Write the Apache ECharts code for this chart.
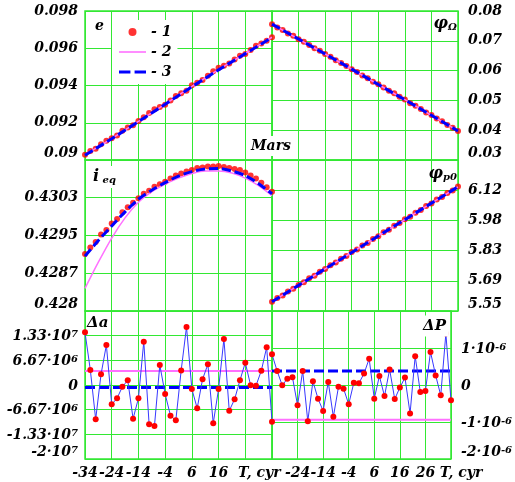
<!DOCTYPE html>
<html><head><meta charset="utf-8">
<script src="https://cdn.jsdelivr.net/npm/echarts@6/dist/echarts.min.js"></script>
<style>html,body{margin:0;padding:0;background:#fff}#c{width:515px;height:482px}</style>
</head><body><div id="c"></div>
<script>
// ---- data ----
const T = [-34,-32,-30,-28,-26,-24,-22,-20,-18,-16,-14,-12,-10,-8,-6,-4,-2,0,2,4,6,8,10,12,14,16,18,20,22,24,26,28,30,32,34,36];
const T8 = [-34,-24,-14,-4,6,16,26,36];
const T15 = [-34,-29,-24,-19,-14,-9,-4,1,6,11,16,21,26,31,36];
const Tends = [-34,36];

// e
const eDots = [0.09028,0.09048,0.09061,0.09084,0.09104,0.09117,0.09131,0.09157,0.09174,0.09187,0.09209,0.09230,0.09253,0.09272,0.09284,0.09297,0.09319,0.09343,0.09359,0.09372,0.09401,0.09415,0.09430,0.09452,0.09476,0.09495,0.09506,0.09518,0.09540,0.09560,0.09569,0.09591,0.09613,0.09626,0.09640,0.09659];
const eModel = [0.09028,0.09115,0.09208,0.09300,0.09395,0.09485,0.09572,0.09659];
const eFit = [0.09026,0.09114,0.09206,0.09299,0.09393,0.09484,0.09571,0.09658];
// phi_Omega
const pODots = [0.07557,0.07447,0.07362,0.07249,0.07167,0.07052,0.06965,0.06857,0.06751,0.06669,0.06553,0.06461,0.06344,0.06259,0.06151,0.06042,0.05957,0.05838,0.05743,0.05624,0.05541,0.05431,0.05323,0.05237,0.05122,0.05028,0.04908,0.04818,0.04709,0.04597,0.04512,0.04391,0.04297,0.04176,0.04085,0.03972];
const pOModel = [0.07557,0.07057,0.06557,0.06050,0.05533,0.05023,0.04500,0.03977];
const pOFit = [0.07560,0.07060,0.06558,0.06050,0.05532,0.05022,0.04499,0.03975];
// i_eq
const iDots = [0.42913,0.42926,0.42937,0.42952,0.42961,0.42974,0.42983,0.42996,0.43006,0.43015,0.43024,0.43033,0.43039,0.43047,0.43052,0.43057,0.43063,0.43069,0.43073,0.43077,0.43080,0.43084,0.43085,0.43087,0.43087,0.43088,0.43086,0.43084,0.43082,0.43080,0.43075,0.43069,0.43063,0.43055,0.43046,0.43037];
const iModel = [0.42845,0.42897,0.42945,0.42985,0.43016,0.43037,0.43052,0.43064,0.43073,0.43078,0.43078,0.43074,0.43064,0.43049,0.43029];
const iFit = [0.42909,0.42940,0.42969,0.42997,0.43022,0.43040,0.43055,0.43068,0.43077,0.43082,0.43083,0.43078,0.43069,0.43053,0.43033];
// phi_p0
const pPDots = [5.594,5.611,5.623,5.642,5.655,5.673,5.686,5.704,5.716,5.735,5.748,5.766,5.779,5.797,5.810,5.828,5.840,5.859,5.871,5.890,5.903,5.921,5.933,5.952,5.965,5.983,5.995,6.014,6.026,6.045,6.057,6.076,6.088,6.107,6.119,6.138];
const pPModel = [5.594,5.671,5.749,5.826,5.904,5.981,6.059,6.136];
const pPFit = [5.594,5.671,5.749,5.826,5.904,5.981,6.059,6.136];
// Delta a
const daDots = [1.424e7,4.05e6,-9.27e6,2.89e6,1.081e7,-5.22e6,-3.6e6,-4.6e5,1.27e6,-9.11e6,-3.6e6,1.17e7,-1.062e7,-1.108e7,5.41e6,-2.43e6,-8.3e6,-9.54e6,3.92e6,1.568e7,-1.08e6,-6.3e6,1.54e6,5.59e6,-1.035e7,-1.08e6,1.243e7,-6.95e6,-3.86e6,1.27e6,6.03e6,-8e4,-1.9e5,3.86e6,1.019e7,-9.92e6];
const daModel = [3.78e6,3.78e6];
const daFit = [-6.5e5,-6.5e5];
// Delta P (units of 1e-6)
const dpDots = [0.83,0.38,-0.01,0.17,0.21,-0.55,0.38,-0.98,0.10,-0.37,-0.70,0.08,-0.86,-0.05,-0.10,-0.52,0.06,0.05,0.31,0.71,-0.37,0.24,-0.30,0.42,-0.38,-0.07,0.20,-0.77,0.78,-0.19,-0.16,0.89,0.26,-0.28,1.39,-0.41];
const dpModel = [-0.94,-0.94];
const dpFit = [0.38,0.38];

// tick labels
const xLeftTicks = ['-34','-24','-14','-4','6','16','T, cyr',''];
const xRightTicks = ['','-24','-14','-4','6','16','26','T, cyr'];
const eTicks = ['0.09','0.092','0.094','0.096','0.098'];
const pOTicks = ['0.03','0.04','0.05','0.06','0.07','0.08'];
const iTicks = ['0.428','0.4287','0.4295','0.4303',''];
const pPTicks = ['5.55','5.69','5.83','5.98','6.12',''];
const daTicks = [['-2·10','7'],['-1.33·10','7'],['-6.67·10','6'],['0',''],['6.67·10','6'],['1.33·10','7'],['','']];
const dpTicks = [['-2·10','-6'],['-1·10','-6'],['0',''],['1·10','-6'],['','']];

// ---- chart ----
const GREEN = '#33e833';
const FF = 'DejaVu Serif';
const font = {fontFamily: FF, fontWeight: 'bold', fontStyle: 'italic', fontSize: 14, color: '#000'};
const pairs = (xs, ys) => xs.map((x, i) => [x, ys[i]]);

const gridDefs = [
  {left: 85, top: 11, width: 187, height: 149},
  {left: 272, top: 11, width: 186, height: 149},
  {left: 85, top: 160, width: 187, height: 151},
  {left: 272, top: 160, width: 186, height: 151},
  {left: 85, top: 311, width: 187, height: 148},
  {left: 272, top: 311, width: 186, height: 148}
];
const grid = gridDefs.map(g => Object.assign({show: true, borderColor: GREEN, borderWidth: 1.5, backgroundColor: 'transparent'}, g));

const supRich = {
  m: Object.assign({}, font, {lineHeight: 14}),
  s: Object.assign({}, font, {fontSize: 10, lineHeight: 8, verticalAlign: 'top'})
};

const xAxis = [0,1,2,3,4,5].map(i => {
  const ax = {
    type: 'value', gridIndex: i, min: -34, max: 36, interval: 10,
    axisLine: {show: false}, axisTick: {show: false},
    splitLine: {show: true, lineStyle: {color: GREEN, width: 1}},
    axisLabel: {show: false}
  };
  if (i >= 4) {
    const ticks = i === 4 ? xLeftTicks : xRightTicks;
    const pad = i === 4 ? 28 : 20;
    ax.axisLabel = Object.assign({}, font, {
      show: true, margin: 7, hideOverlap: false, showMinLabel: true, showMaxLabel: true,
      formatter: v => {
        const s = ticks[Math.round((v + 34) / 10)] || '';
        return s.indexOf('T') === 0 ? '{t|' + s + '}' : s;
      },
      rich: {t: Object.assign({}, font, {padding: [0, 0, 0, pad]})}
    });
  }
  return ax;
});

function yAx(i, min, max, interval, labels, pos, rich) {
  return {
    type: 'value', gridIndex: i, min: min, max: max, interval: interval, position: pos,
    axisLine: {show: false}, axisTick: {show: false},
    splitLine: {show: true, lineStyle: {color: GREEN, width: 1}},
    axisLabel: Object.assign({}, font, {
      margin: pos === 'left' ? 7 : 10,
      showMinLabel: true, showMaxLabel: true,
      verticalAlignMinLabel: 'bottom',
      formatter: v => {
        const lab = labels[Math.round((v - min) / interval)];
        if (lab === undefined) return '';
        if (rich) return lab[0] === '' ? '' : (lab[1] ? '{m|' + lab[0] + '}{s|' + lab[1] + '}' : '{m|' + lab[0] + '}');
        return lab;
      },
      rich: rich ? supRich : undefined,
      lineHeight: 14,
      padding: rich ? [2, 0, 0, 0] : [5, 0, 0, 0]
    })
  };
}
const yAxis = [
  yAx(0, 0.09, 0.098, 0.002, eTicks, 'left'),
  yAx(1, 0.03, 0.08, 0.01, pOTicks, 'right'),
  yAx(2, 0.428, 0.431, 0.00075, iTicks, 'left'),
  yAx(3, 5.55, 6.2625, 0.1425, pPTicks, 'right'),
  yAx(4, -2e7, 2e7, 2e7 / 3, daTicks, 'left', true),
  yAx(5, -2, 2, 1, dpTicks, 'right', true)
];

const PINK = '#ff70ff', BLUE = '#0000ff', RED = '#ff0000';
const series = [];
function smoothPanel(i, dots, xm, model, xf, fit, smooth) {
  series.push({type: 'scatter', name: '- 1', xAxisIndex: i, yAxisIndex: i, data: pairs(T, dots),
    symbol: 'circle', symbolSize: 6, itemStyle: {color: RED}, z: 2, silent: true});
  series.push({type: 'line', name: '- 2', xAxisIndex: i, yAxisIndex: i, data: pairs(xm, model),
    symbol: 'none', smooth: smooth, lineStyle: {color: PINK, width: 1.5}, itemStyle: {color: PINK}, z: 3, silent: true});
  series.push({type: 'line', name: '- 3', xAxisIndex: i, yAxisIndex: i, data: pairs(xf, fit),
    symbol: 'none', smooth: smooth, lineStyle: {color: BLUE, width: 3, type: [9, 4]}, itemStyle: {color: BLUE}, z: 4, silent: true});
}
function resPanel(i, dots, model, fit) {
  series.push({type: 'line', name: '- 2', xAxisIndex: i, yAxisIndex: i, data: pairs(Tends, model),
    symbol: 'none', lineStyle: {color: PINK, width: 2}, itemStyle: {color: PINK}, z: 3, silent: true});
  series.push({type: 'line', name: '- 3', xAxisIndex: i, yAxisIndex: i, data: pairs(Tends, fit),
    symbol: 'none', lineStyle: {color: BLUE, width: 3, type: [10, 4]}, itemStyle: {color: BLUE}, z: 4, silent: true});
  series.push({type: 'line', name: '- 1', xAxisIndex: i, yAxisIndex: i, data: pairs(T, dots),
    symbol: 'circle', symbolSize: 6, showSymbol: true, itemStyle: {color: RED},
    lineStyle: {color: '#3838ff', width: 1}, z: 5, silent: true});
}
smoothPanel(0, eDots, T8, eModel, T8, eFit, false);
smoothPanel(1, pODots, T8, pOModel, T8, pOFit, false);
smoothPanel(2, iDots, T15, iModel, T15, iFit, 0.3);
smoothPanel(3, pPDots, T8, pPModel, T8, pPFit, false);
resPanel(4, daDots, daModel, daFit);
resPanel(5, dpDots, dpModel, dpFit);

const gf = {fontFamily: FF, fontWeight: 'bold', fontStyle: 'italic', fontSize: 14, fill: '#000'};
const tok = (size) => ({fontFamily: FF, fontWeight: 'bold', fontStyle: 'italic', fontSize: size, fill: '#000', color: '#000'});
const graphic = [
  {type: 'text', x: 95, y: 26, z: 100, style: Object.assign({}, gf, {text: 'e', verticalAlign: 'middle'})},
  {type: 'text', x: 271, y: 146, z: 100, style: Object.assign({}, gf, {text: 'Mars', align: 'center', verticalAlign: 'middle', backgroundColor: '#fff', padding: [3, 2, 3, 2]})},
  {type: 'text', x: 457, y: 24, z: 100, style: {text: '{a|φ}{b|Ω}', align: 'right', verticalAlign: 'middle', rich: {a: tok(16), b: Object.assign(tok(10), {verticalAlign: 'bottom', lineHeight: 12})}}},
  {type: 'text', x: 91, y: 177, z: 100, style: {text: '{a|i}{b| eq}', verticalAlign: 'middle', backgroundColor: '#fff', padding: [3, 3, 3, 2], rich: {a: tok(16), b: Object.assign(tok(10), {verticalAlign: 'bottom', lineHeight: 12})}}},
  {type: 'text', x: 457, y: 174, z: 100, style: {text: '{a|φ}{b|p0}', align: 'right', verticalAlign: 'middle', rich: {a: tok(16), b: Object.assign(tok(10), {verticalAlign: 'bottom', lineHeight: 12})}}},
  {type: 'text', x: 87, y: 323, z: 100, style: Object.assign({}, gf, {text: 'Δa', verticalAlign: 'middle', fontSize: 15})},
  {type: 'text', x: 421, y: 326, z: 100, style: Object.assign({}, gf, {text: 'ΔP', verticalAlign: 'middle', fontSize: 15, backgroundColor: '#fff', padding: [3, 3, 3, 2]})}
];

const chart = echarts.init(document.getElementById('c'), null, {renderer: 'canvas'});
chart.setOption({
  backgroundColor: '#fff',
  animation: false,
  grid: grid,
  xAxis: xAxis,
  yAxis: yAxis,
  legend: {
    orient: 'vertical', left: 112, top: 20, backgroundColor: '#fff', padding: [4, 6, 4, 7],
    itemGap: 4, itemWidth: 27, itemHeight: 8, selectedMode: false, symbolKeepAspect: true,
    textStyle: Object.assign({}, font, {lineHeight: 16}),
    data: [
      {name: '- 1', icon: 'circle', itemStyle: {color: RED}},
      {name: '- 2', icon: 'path://M0,0H27V1.6H0Z', itemStyle: {color: PINK}},
      {name: '- 3', icon: 'path://M0,0H11V3H0Z M15,0H26V3H15Z', itemStyle: {color: BLUE}}
    ]
  },
  graphic: graphic,
  series: series
});
</script>
</body></html>
